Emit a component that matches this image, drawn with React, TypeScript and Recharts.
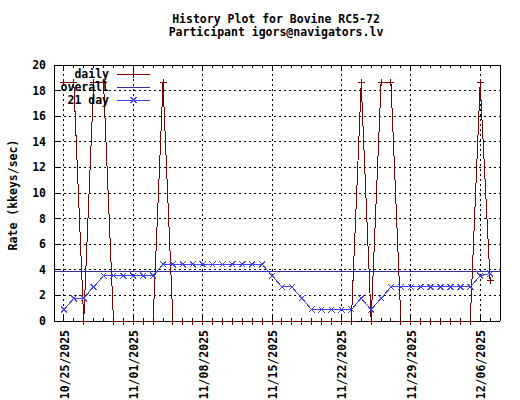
import React from "react";
import {
  LineChart,
  Line,
  XAxis,
  YAxis,
  CartesianGrid,
  ReferenceLine,
} from "recharts";

// one entry per day, 10/25 .. 12/07
const dates = [
  "10/25/2025", "10/26/2025", "10/27/2025", "10/28/2025", "10/29/2025", "10/30/2025", "10/31/2025",
  "11/01/2025", "11/02/2025", "11/03/2025", "11/04/2025", "11/05/2025", "11/06/2025", "11/07/2025",
  "11/08/2025", "11/09/2025", "11/10/2025", "11/11/2025", "11/12/2025", "11/13/2025", "11/14/2025",
  "11/15/2025", "11/16/2025", "11/17/2025", "11/18/2025", "11/19/2025", "11/20/2025", "11/21/2025",
  "11/22/2025", "11/23/2025", "11/24/2025", "11/25/2025", "11/26/2025", "11/27/2025", "11/28/2025",
  "11/29/2025", "11/30/2025", "12/01/2025", "12/02/2025", "12/03/2025", "12/04/2025", "12/05/2025",
  "12/06/2025", "12/07/2025",
];

const daily = [
  18.6, 18.6, 0, 18.6, 18.6, 0, 0,
  0, 0, 0, 18.6, 0, 0, 0,
  0, 0, 0, 0, 0, 0, 0,
  0, 0, 0, 0, 0, 0, 0,
  0, 0, 18.6, 0, 18.6, 18.6, 0,
  0, 0, 0, 0, 0, 0, 0,
  18.6, 3.2,
];

const avg21 = [
  0.89, 1.77, 1.77, 2.66, 3.54, 3.54, 3.54,
  3.54, 3.54, 3.54, 4.43, 4.43, 4.43, 4.43,
  4.43, 4.43, 4.43, 4.43, 4.43, 4.43, 4.43,
  3.54, 2.66, 2.66, 1.77, 0.89, 0.89, 0.89,
  0.89, 0.89, 1.77, 0.89, 1.77, 2.66, 2.66,
  2.66, 2.66, 2.66, 2.66, 2.66, 2.66, 2.66,
  3.54, 3.7,
];

const overall = 3.9;

const weekLabels = [
  "10/25/2025", "11/01/2025", "11/08/2025", "11/15/2025",
  "11/22/2025", "11/29/2025", "12/06/2025",
];

const yTicks = [0, 2, 4, 6, 8, 10, 12, 14, 16, 18, 20];

const DAILY = "#800000";
const OVERALL = "#3030a0";
const AVG = "#4040ff";
const FONT = "'DejaVu Sans Mono', monospace";

const data = dates.map((d, i) => ({
  day: i + 1,
  date: d,
  daily: daily[i],
  avg21: avg21[i],
}));

const xMax = dates.length + 1;
const dayTicks = Array.from({ length: xMax + 1 }, (_, i) => i);
const weekPos = weekLabels.map((l) => dates.indexOf(l) + 1);

const labelAt = (v: number) => {
  const k = weekPos.indexOf(v);
  return k >= 0 ? weekLabels[k] : null;
};

function BottomTick({ x, y, payload }: any) {
  const label = labelAt(payload.value);
  return (
    <g>
      <line x1={x} y1={y} x2={x} y2={y - (label ? 6 : 3)} stroke="#000" />
      {label && (
        <text
          x={x + 1}
          y={y + 9}
          transform={`rotate(-90 ${x + 1} ${y + 9})`}
          textAnchor="end"
          dominantBaseline="central"
          fontFamily={FONT}
          fontWeight="bold"
          fontSize={11.5}
          fill="#000"
        >
          {label}
        </text>
      )}
    </g>
  );
}

function TopTick({ x, y, payload }: any) {
  const major = labelAt(payload.value) != null;
  return <line x1={x} y1={y} x2={x} y2={y + (major ? 6 : 3)} stroke="#000" />;
}

function LeftTick({ x, y, payload }: any) {
  return (
    <g>
      <line x1={x} y1={y} x2={x + 6} y2={y} stroke="#000" />
      <text
        x={x - 8}
        y={y}
        textAnchor="end"
        dominantBaseline="central"
        fontFamily={FONT}
        fontWeight="bold"
        fontSize={11.5}
        fill="#000"
      >
        {payload.value}
      </text>
    </g>
  );
}

function RightTick({ x, y }: any) {
  return <line x1={x} y1={y} x2={x - 6} y2={y} stroke="#000" />;
}

function PlusDot({ cx, cy }: any) {
  return (
    <path
      d={`M${cx - 3.5},${cy}H${cx + 3.5}M${cx},${cy - 3.5}V${cy + 3.5}`}
      stroke={DAILY}
      fill="none"
    />
  );
}

function CrossDot({ cx, cy }: any) {
  return (
    <path
      d={`M${cx - 3},${cy - 3}L${cx + 3},${cy + 3}M${cx - 3},${cy + 3}L${cx + 3},${cy - 3}`}
      stroke={AVG}
      fill="none"
    />
  );
}

const txt = {
  fontFamily: FONT,
  fontWeight: "bold" as const,
  fontSize: 11.5,
  fill: "#000",
};

function Overlay() {
  const rows = [
    { name: "daily", color: DAILY, mark: "plus" },
    { name: "overall", color: OVERALL, mark: "none" },
    { name: "21 day", color: AVG, mark: "cross" },
  ];
  return (
    <svg
      width={520}
      height={400}
      style={{ position: "absolute", left: 0, top: 0, pointerEvents: "none" }}
    >
      <text x={276} y={23} textAnchor="middle" {...txt}>
        History Plot for Bovine RC5-72
      </text>
      <text x={276} y={36} textAnchor="middle" {...txt}>
        Participant igors@navigators.lv
      </text>
      <text
        x={13}
        y={195}
        transform="rotate(-90 13 195)"
        textAnchor="middle"
        dominantBaseline="central"
        {...txt}
      >
        Rate (kkeys/sec)
      </text>
      {rows.map((r, i) => {
        const y = 74 + i * 13;
        const mx = 133.5;
        return (
          <g key={r.name}>
            <text x={109} y={y} textAnchor="end" dominantBaseline="central" {...txt}>
              {r.name}
            </text>
            <line x1={117} y1={y} x2={150} y2={y} stroke={r.color} />
            {r.mark === "plus" && (
              <path d={`M${mx - 3.5},${y}H${mx + 3.5}M${mx},${y - 3.5}V${y + 3.5}`} stroke={r.color} />
            )}
            {r.mark === "cross" && (
              <path
                d={`M${mx - 3},${y - 3}L${mx + 3},${y + 3}M${mx - 3},${y + 3}L${mx + 3},${y - 3}`}
                stroke={r.color}
              />
            )}
          </g>
        );
      })}
    </svg>
  );
}

export default function App() {
  return (
    <div
      style={{
        position: "absolute",
        left: 0,
        top: 0,
        width: 520,
        height: 400,
        background: "#fff",
        shapeRendering: "crispEdges",
      }}
    >
      <LineChart
        width={520}
        height={400}
        data={data}
        margin={{ top: 64, right: 0, bottom: 0, left: 0 }}
      >
        <CartesianGrid vertical={false} stroke="#000" strokeDasharray="2 3" />
        {weekPos.map((p) => (
          <ReferenceLine key={p} x={p} stroke="#000" strokeDasharray="2 3" />
        ))}
        <ReferenceLine y={overall} stroke={OVERALL} />
        <XAxis
          dataKey="day"
          type="number"
          domain={[0, xMax]}
          ticks={dayTicks}
          interval={0}
          height={79}
          tickSize={0}
          tickMargin={0}
          tickLine={false}
          axisLine={{ stroke: "#000" }}
          tick={<BottomTick />}
        />
        <XAxis
          xAxisId="top"
          orientation="top"
          dataKey="day"
          type="number"
          domain={[0, xMax]}
          ticks={dayTicks}
          interval={0}
          height={1}
          tickSize={0}
          tickMargin={0}
          tickLine={false}
          axisLine={{ stroke: "#000" }}
          tick={<TopTick />}
        />
        <YAxis
          domain={[0, 20]}
          ticks={yTicks}
          interval={0}
          width={54}
          tickSize={0}
          tickMargin={0}
          tickLine={false}
          axisLine={{ stroke: "#000" }}
          tick={<LeftTick />}
        />
        <YAxis
          yAxisId="right"
          orientation="right"
          domain={[0, 20]}
          ticks={yTicks}
          interval={0}
          width={20}
          tickSize={0}
          tickMargin={0}
          tickLine={false}
          axisLine={{ stroke: "#000" }}
          tick={<RightTick />}
        />
        <Line
          dataKey="daily"
          stroke={DAILY}
          strokeWidth={1}
          type="linear"
          isAnimationActive={false}
          activeDot={false}
          dot={(p: any) => <PlusDot key={p.index} cx={p.cx} cy={p.cy} />}
        />
        <Line
          dataKey="avg21"
          stroke={AVG}
          strokeWidth={1}
          type="linear"
          isAnimationActive={false}
          activeDot={false}
          dot={(p: any) => <CrossDot key={p.index} cx={p.cx} cy={p.cy} />}
        />
      </LineChart>
      <Overlay />
    </div>
  );
}
